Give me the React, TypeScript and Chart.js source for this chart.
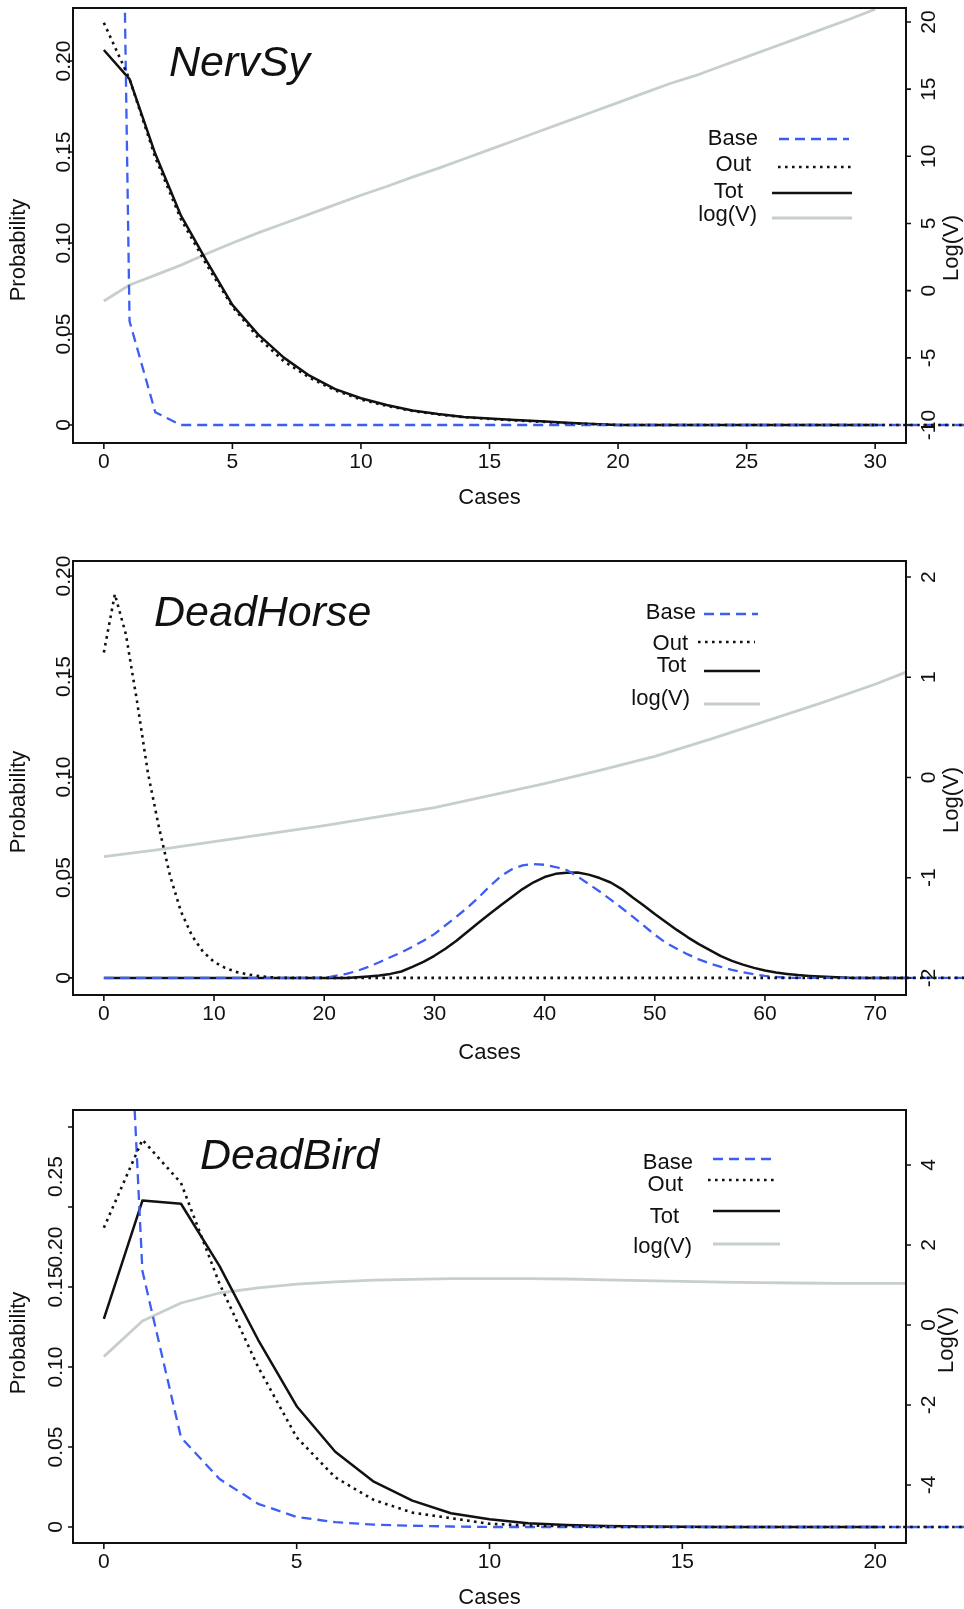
import React, { useEffect, useRef } from "react";
import { Chart, registerables } from "chart.js";

Chart.register(...registerables);

// ---------------- Panel 1 : NervSy ----------------
const cases1 = [0, 1, 2, 3, 4, 5, 6, 7, 8, 9, 10, 11, 12, 13, 14, 15, 16, 17, 18, 19, 20, 21, 22, 23, 24, 25, 26, 27, 28, 29, 30];
const base1 = [1.0, 0.057, 0.007, 0, 0, 0, 0, 0, 0, 0, 0, 0, 0, 0, 0, 0, 0, 0, 0, 0, 0, 0, 0, 0, 0, 0, 0, 0, 0, 0, 0];
const out1 = [0.221, 0.19, 0.147, 0.113, 0.088, 0.065, 0.048, 0.035, 0.026, 0.019, 0.014, 0.0105, 0.0077, 0.0058, 0.0043, 0.0033, 0.0025, 0.0018, 0.001, 0.0005, 0, 0, 0, 0, 0, 0, 0, 0, 0, 0, 0];
const tot1 = [0.206, 0.19, 0.149, 0.115, 0.09, 0.066, 0.0498, 0.037, 0.0271, 0.0197, 0.0147, 0.011, 0.008, 0.006, 0.0044, 0.0035, 0.0027, 0.002, 0.0012, 0.0006, 0, 0, 0, 0, 0, 0, 0, 0, 0, 0, 0];
const logv1 = [-0.77, 0.42, 1.16, 1.9, 2.75, 3.55, 4.3, 5.0, 5.7, 6.4, 7.1, 7.75, 8.45, 9.1, 9.8, 10.5, 11.2, 11.9, 12.6, 13.3, 14.0, 14.7, 15.4, 16.0, 16.7, 17.4, 18.1, 18.8, 19.5, 20.2, 20.95];
const xTicks1 = [0, 5, 10, 15, 20, 25, 30];
const yTicks1 = [0, 0.05, 0.1, 0.15, 0.2];
const yLabels1 = ["0", "0.05", "0.10", "0.15", "0.20"];
const y2Ticks1 = [-10, -5, 0, 5, 10, 15, 20];
const y2Labels1 = ["-10", "-5", "0", "5", "10", "15", "20"];

// ---------------- Panel 2 : DeadHorse ----------------
const cases2 = [0, 1, 2, 3, 4, 5, 6, 7, 8, 9, 10, 11, 12, 13, 14, 15, 16, 17, 18, 19, 20, 21, 22, 23, 24, 25, 26, 27, 28, 29, 30, 31, 32, 33, 34, 35, 36, 37, 38, 39, 40, 41, 42, 43, 44, 45, 46, 47, 48, 49, 50, 51, 52, 53, 54, 55, 56, 57, 58, 59, 60, 61, 62, 63, 64, 65, 66, 67, 68, 69, 70, 71, 72, 73];
const base2 = [0, 0, 0, 0, 0, 0, 0, 0, 0, 0, 0, 0, 0, 0, 0, 0, 0, 0, 0, 0, 0,
  0.001, 0.002, 0.0035, 0.0055, 0.0078, 0.0103, 0.0127, 0.0155, 0.0185, 0.0218, 0.0262, 0.0305, 0.035, 0.04, 0.0455, 0.0505, 0.054, 0.056, 0.0567, 0.0563, 0.0552, 0.0537, 0.0505, 0.0467, 0.043, 0.039, 0.0348, 0.0305, 0.026, 0.0215, 0.0175, 0.0145, 0.0117, 0.0092, 0.0072, 0.0055, 0.004, 0.0028, 0.0018, 0.001, 0.0005,
  0, 0, 0, 0, 0, 0, 0, 0, 0, 0, 0, 0];
const out2 = [0.162, 0.191, 0.171, 0.138, 0.102, 0.075, 0.051, 0.033, 0.021, 0.013, 0.008, 0.005, 0.003, 0.0018, 0.001, 0.0004,
  0, 0, 0, 0, 0, 0, 0, 0, 0, 0, 0, 0, 0, 0, 0, 0, 0, 0, 0, 0, 0, 0, 0, 0, 0, 0, 0, 0, 0, 0, 0, 0, 0, 0, 0, 0, 0, 0, 0, 0, 0, 0, 0, 0, 0, 0, 0, 0, 0, 0, 0, 0, 0, 0, 0, 0, 0, 0];
const tot2 = [0, 0, 0, 0, 0, 0, 0, 0, 0, 0, 0, 0, 0, 0, 0, 0, 0, 0, 0, 0, 0, 0, 0,
  0.0003, 0.0007, 0.0012, 0.002, 0.0032, 0.0055, 0.008, 0.011, 0.0145, 0.0185, 0.023, 0.0275, 0.0318, 0.036, 0.0402, 0.0442, 0.0476, 0.0502, 0.0518, 0.0524, 0.0525, 0.0514, 0.0497, 0.0475, 0.0442, 0.04, 0.036, 0.0318, 0.0278, 0.0239, 0.0202, 0.0168, 0.0138, 0.0108, 0.0085, 0.0066, 0.005, 0.0037, 0.0027, 0.002, 0.0014, 0.001, 0.0007, 0.0004, 0.0002,
  0, 0, 0, 0, 0, 0];
const logCases2 = [0, 5, 10, 15, 20, 25, 30, 35, 40, 45, 50, 55, 60, 65, 70, 73];
const logv2 = [-0.79, -0.72, -0.64, -0.56, -0.48, -0.39, -0.3, -0.18, -0.06, 0.07, 0.21, 0.38, 0.56, 0.74, 0.93, 1.06];
const xTicks2 = [0, 10, 20, 30, 40, 50, 60, 70];
const yTicks2 = [0, 0.05, 0.1, 0.15, 0.2];
const yLabels2 = ["0", "0.05", "0.10", "0.15", "0.20"];
const y2Ticks2 = [-2, -1, 0, 1, 2];
const y2Labels2 = ["-2", "-1", "0", "1", "2"];

// ---------------- Panel 3 : DeadBird ----------------
const cases3 = [0, 1, 2, 3, 4, 5, 6, 7, 8, 9, 10, 11, 12, 13, 14, 15, 16, 17, 18, 19, 20];
const base3 = [0.66, 0.16, 0.056, 0.03, 0.0145, 0.0063, 0.003, 0.0015, 0.0008, 0.0003, 0, 0, 0, 0, 0, 0, 0, 0, 0, 0, 0];
const out3 = [0.187, 0.242, 0.215, 0.152, 0.1, 0.056, 0.031, 0.0169, 0.009, 0.0055, 0.002, 0.001, 0.0005, 0, 0, 0, 0, 0, 0, 0, 0];
const tot3 = [0.13, 0.204, 0.202, 0.163, 0.117, 0.0755, 0.047, 0.0283, 0.0165, 0.0086, 0.0048, 0.0023, 0.0013, 0.0006, 0.0003, 0.0001, 0, 0, 0, 0, 0];
const logCases3 = [0, 1, 2, 3, 4, 5, 6, 7, 8, 9, 10, 11, 12, 13, 14, 15, 16, 17, 18, 19, 20, 21];
const logv3 = [-0.79, 0.1, 0.55, 0.8, 0.93, 1.02, 1.08, 1.12, 1.14, 1.16, 1.16, 1.16, 1.15, 1.13, 1.11, 1.09, 1.07, 1.06, 1.05, 1.04, 1.04, 1.04];
const xTicks3 = [0, 5, 10, 15, 20];
const yTicks3 = [0, 0.05, 0.1, 0.15, 0.2, 0.25];
const yLabels3 = ["0", "0.05", "0.10", "0.15", "0.20", "0.25"];
// where the (slightly misplaced) left tick labels sit in the original figure
const yLabelPos3 = [0, 0.05, 0.1, 0.15, 0.175, 0.219];
const y2Ticks3 = [-4, -2, 0, 2, 4];
const y2Labels3 = ["-4", "-2", "0", "2", "4"];

// ---------------- styles ----------------
const BLUE = "#3d5ef3";
const GRAY = "#c6cfcb";
const INK = "#111111";
const FONT = '"Liberation Sans", Arial, Helvetica, sans-serif';

type Kind = "base" | "out" | "tot" | "logv";
const STYLES: Record<Kind, { color: string; width: number; dash: number[] }> = {
  base: { color: BLUE, width: 2.3, dash: [10, 6] },
  out: { color: INK, width: 2.6, dash: [2.6, 4.4] },
  tot: { color: INK, width: 2.5, dash: [] },
  logv: { color: GRAY, width: 2.8, dash: [] },
};

function applyStyle(ctx: CanvasRenderingContext2D, k: Kind) {
  const s = STYLES[k];
  ctx.strokeStyle = s.color;
  ctx.lineWidth = s.width;
  ctx.setLineDash(s.dash);
  ctx.lineCap = "butt";
}

type LegendItem = { label: string; kind: Kind; textRight: number; textY: number; x1: number; x2: number; lineY: number };

type Decor = {
  title: string; titleX: number; titleY: number;
  xTicks: number[]; yTicks: number[]; yLabels: string[]; yLabelPos: number[]; yLabelX: number;
  y2Ticks: number[]; y2Labels: string[]; y2LabelX: number;
  casesDy: number; probX: number; probYc: number; logX: number; logYc: number;
  lastCase: number; legend: LegendItem[];
};

function makeDecor(id: string, o: Decor) {
  return {
    id,
    afterDatasetsDraw(chart: any) {
      const ctx: CanvasRenderingContext2D = chart.ctx;
      const { left, right, top, bottom } = chart.chartArea;
      const xs = chart.scales.x, ys = chart.scales.y, y2 = chart.scales.y2;
      const W = chart.width;
      ctx.save();

      // zero lines continue past the frame, as in the original
      const y0 = ys.getPixelForValue(0);
      const xStart = Math.min(xs.getPixelForValue(o.lastCase), right);
      (["base", "out"] as Kind[]).forEach((k) => {
        applyStyle(ctx, k);
        ctx.beginPath();
        ctx.moveTo(xStart, y0);
        ctx.lineTo(W, y0);
        ctx.stroke();
      });

      // frame
      ctx.setLineDash([]);
      ctx.strokeStyle = INK;
      ctx.lineWidth = 2;
      ctx.strokeRect(left, top, right - left, bottom - top);

      // tick marks
      ctx.lineWidth = 1.6;
      ctx.beginPath();
      o.xTicks.forEach((v) => { const px = xs.getPixelForValue(v); ctx.moveTo(px, bottom); ctx.lineTo(px, bottom + 6); });
      o.yTicks.forEach((v) => { const py = ys.getPixelForValue(v); ctx.moveTo(left, py); ctx.lineTo(left - 5, py); });
      o.y2Ticks.forEach((v) => { const py = y2.getPixelForValue(v); ctx.moveTo(right, py); ctx.lineTo(right + 5, py); });
      ctx.stroke();

      ctx.fillStyle = INK;
      const vtext = (s: string, x: number, y: number) => {
        ctx.save();
        ctx.translate(x, y);
        ctx.rotate(-Math.PI / 2);
        ctx.textAlign = "center";
        ctx.textBaseline = "alphabetic";
        ctx.fillText(s, 0, 0);
        ctx.restore();
      };

      // tick labels
      ctx.font = `21px ${FONT}`;
      ctx.textAlign = "center";
      ctx.textBaseline = "middle";
      o.xTicks.forEach((v) => ctx.fillText(String(v), xs.getPixelForValue(v), bottom + 19));
      o.yLabelPos.forEach((v, i) => vtext(o.yLabels[i], o.yLabelX, ys.getPixelForValue(v)));
      o.y2Ticks.forEach((v, i) => vtext(o.y2Labels[i], o.y2LabelX, y2.getPixelForValue(v)));

      // axis titles
      ctx.font = `22px ${FONT}`;
      ctx.textAlign = "center";
      ctx.textBaseline = "middle";
      ctx.fillText("Cases", (left + right) / 2, bottom + o.casesDy);
      vtext("Probability", o.probX, o.probYc);
      vtext("Log(V)", o.logX, o.logYc);

      // panel title
      ctx.font = `italic 43px ${FONT}`;
      ctx.textAlign = "left";
      ctx.textBaseline = "alphabetic";
      ctx.fillText(o.title, o.titleX, o.titleY);

      // legend
      ctx.font = `22px ${FONT}`;
      o.legend.forEach((it) => {
        ctx.setLineDash([]);
        ctx.fillStyle = INK;
        ctx.textAlign = "right";
        ctx.textBaseline = "middle";
        ctx.fillText(it.label, it.textRight, it.textY);
        applyStyle(ctx, it.kind);
        ctx.beginPath();
        ctx.moveTo(it.x1, it.lineY);
        ctx.lineTo(it.x2, it.lineY);
        ctx.stroke();
      });

      ctx.restore();
    },
  };
}

type Panel = {
  height: number; top: number;
  cases: number[]; base: number[]; out: number[]; tot: number[]; logCases: number[]; logv: number[];
  xMin: number; xMax: number; yMin: number; yMax: number; y2Min: number; y2Max: number;
  padTop: number; padBottom: number; decor: Decor;
};

const PANELS: Panel[] = [
  {
    height: 536, top: 0,
    cases: cases1, base: base1, out: out1, tot: tot1, logCases: cases1, logv: logv1,
    xMin: -1.2, xMax: 31.2, yMin: -0.0099, yMax: 0.2291, y2Min: -11.34, y2Max: 21.04,
    padTop: 8, padBottom: 93,
    decor: {
      title: "NervSy", titleX: 169, titleY: 76,
      xTicks: xTicks1, yTicks: yTicks1, yLabels: yLabels1, yLabelPos: yTicks1, yLabelX: 70,
      y2Ticks: y2Ticks1, y2Labels: y2Labels1, y2LabelX: 935,
      casesDy: 55, probX: 25, probYc: 250, logX: 958, logYc: 248, lastCase: 30,
      legend: [
        { label: "Base", kind: "base", textRight: 758, textY: 139, x1: 779, x2: 849, lineY: 139 },
        { label: "Out", kind: "out", textRight: 751, textY: 165, x1: 778, x2: 851, lineY: 167 },
        { label: "Tot", kind: "tot", textRight: 743, textY: 192, x1: 772, x2: 852, lineY: 193 },
        { label: "log(V)", kind: "logv", textRight: 757, textY: 215, x1: 772, x2: 852, lineY: 218 },
      ],
    },
  },
  {
    height: 536, top: 536,
    cases: cases2, base: base2, out: out2, tot: tot2, logCases: logCases2, logv: logv2,
    xMin: -2.8, xMax: 72.8, yMin: -0.0085, yMax: 0.2075, y2Min: -2.17, y2Max: 2.16,
    padTop: 25, padBottom: 77,
    decor: {
      title: "DeadHorse", titleX: 154, titleY: 90,
      xTicks: xTicks2, yTicks: yTicks2, yLabels: yLabels2, yLabelPos: yTicks2, yLabelX: 70,
      y2Ticks: y2Ticks2, y2Labels: y2Labels2, y2LabelX: 935,
      casesDy: 58, probX: 25, probYc: 266, logX: 958, logYc: 264, lastCase: 73,
      legend: [
        { label: "Base", kind: "base", textRight: 696, textY: 77, x1: 704, x2: 758, lineY: 78 },
        { label: "Out", kind: "out", textRight: 688, textY: 108, x1: 698, x2: 755, lineY: 106 },
        { label: "Tot", kind: "tot", textRight: 686, textY: 130, x1: 704, x2: 760, lineY: 135 },
        { label: "log(V)", kind: "logv", textRight: 690, textY: 163, x1: 704, x2: 760, lineY: 168 },
      ],
    },
  },
  {
    height: 537, top: 1072,
    cases: cases3, base: base3, out: out3, tot: tot3, logCases: logCases3, logv: logv3,
    xMin: -0.8, xMax: 20.8, yMin: -0.01, yMax: 0.2606, y2Min: -5.45, y2Max: 5.375,
    padTop: 38, padBottom: 66,
    decor: {
      title: "DeadBird", titleX: 200, titleY: 97,
      xTicks: xTicks3, yTicks: yTicks3, yLabels: yLabels3, yLabelPos: yLabelPos3, yLabelX: 62,
      y2Ticks: y2Ticks3, y2Labels: y2Labels3, y2LabelX: 935,
      casesDy: 55, probX: 25, probYc: 271, logX: 953, logYc: 268, lastCase: 20,
      legend: [
        { label: "Base", kind: "base", textRight: 693, textY: 91, x1: 713, x2: 777, lineY: 87 },
        { label: "Out", kind: "out", textRight: 683, textY: 113, x1: 708, x2: 777, lineY: 108 },
        { label: "Tot", kind: "tot", textRight: 679, textY: 145, x1: 713, x2: 780, lineY: 139 },
        { label: "log(V)", kind: "logv", textRight: 692, textY: 175, x1: 713, x2: 780, lineY: 172 },
      ],
    },
  },
];

function ds(label: string, kind: Kind, xs: number[], ys: number[], axis: string) {
  const s = STYLES[kind];
  return {
    label,
    data: xs.map((x, i) => ({ x, y: ys[i] })),
    borderColor: s.color,
    borderWidth: s.width,
    borderDash: s.dash,
    borderCapStyle: "butt",
    borderJoinStyle: "round",
    pointRadius: 0,
    tension: 0,
    fill: false,
    yAxisID: axis,
  };
}

function makeConfig(p: Panel, idx: number): any {
  return {
    type: "line",
    data: {
      datasets: [
        ds("Out", "out", p.cases, p.out, "y"),
        ds("Base", "base", p.cases, p.base, "y"),
        ds("Tot", "tot", p.cases, p.tot, "y"),
        ds("log(V)", "logv", p.logCases, p.logv, "y2"),
      ],
    },
    options: {
      responsive: false,
      animation: false,
      devicePixelRatio: 1,
      events: [],
      layout: { padding: { left: 73, right: 58, top: p.padTop, bottom: p.padBottom } },
      scales: {
        x: { type: "linear", min: p.xMin, max: p.xMax, display: false },
        y: { type: "linear", min: p.yMin, max: p.yMax, display: false },
        y2: { type: "linear", position: "right", min: p.y2Min, max: p.y2Max, display: false },
      },
      plugins: { legend: { display: false }, tooltip: { enabled: false }, title: { display: false } },
    },
    plugins: [makeDecor("rDecor" + idx, p.decor)],
  };
}

export default function App() {
  const r0 = useRef<HTMLCanvasElement>(null);
  const r1 = useRef<HTMLCanvasElement>(null);
  const r2 = useRef<HTMLCanvasElement>(null);
  const refs = [r0, r1, r2];

  useEffect(() => {
    const charts = PANELS.map((p, i) => new Chart(refs[i].current as HTMLCanvasElement, makeConfig(p, i)));
    return () => charts.forEach((c) => c.destroy());
  }, []);

  return (
    <div style={{ position: "absolute", left: 0, top: 0, width: 964, height: 1609, background: "#ffffff", overflow: "hidden" }}>
      {PANELS.map((p, i) => (
        <canvas
          key={i}
          ref={refs[i]}
          width={964}
          height={p.height}
          style={{ position: "absolute", left: 0, top: p.top, width: 964, height: p.height, display: "block" }}
        />
      ))}
    </div>
  );
}
